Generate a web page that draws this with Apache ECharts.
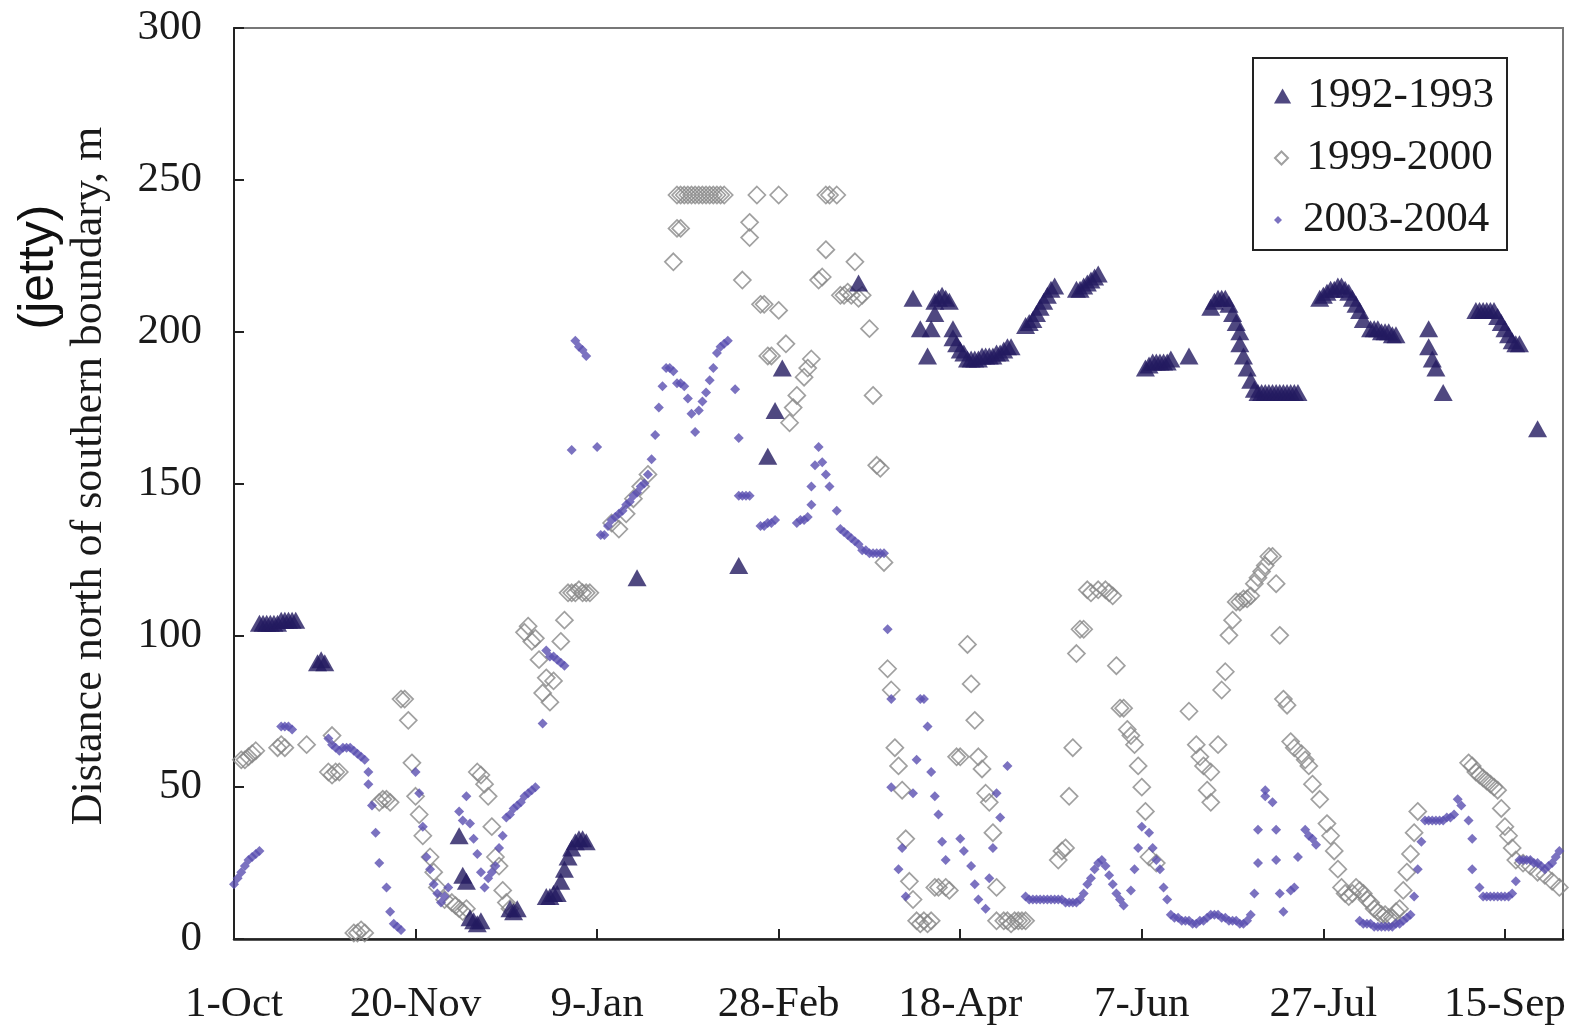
<!DOCTYPE html>
<html><head><meta charset="utf-8">
<script src="https://cdn.jsdelivr.net/npm/echarts@6/dist/echarts.min.js"></script>
<style>html,body{margin:0;padding:0;background:#fff}#c{width:1578px;height:1028px}</style>
</head><body><div id="c"></div>
<script>
const tickLabels = ['1-Oct','20-Nov','9-Jan','28-Feb','18-Apr','7-Jun','27-Jul','15-Sep'];
const seriesNames = ['1992-1993','1999-2000','2003-2004'];
const yTitle = 'Distance north of southern boundary, m';
const yNote = '(jetty)';

// [day since 1-Oct, distance m]
const s1992 = [
[7,104],[8,104],[9,104],[10,104],[11,104],[12,104],[13,105],[14,105],[15,105],[16,105],[17,105],
[23,91],[24,92],[25,91],
[62,34],[63,21],[64,19],[65,7],[66,6],[67,5],[68,6],
[76,10],[77,9],[78,10],
[86,14],[87,14],[88,15],[89,15],[90,19],[91,23],[92,27],[93,30],[94,32],[95,33],[96,33],[97,32],
[111,119],[139,123],[147,159],[149,174],[151,188],[172,216],
[187,211],[189,201],[191,192],[192,201],[193,206],[193,210],[194,211],[195,212],[196,211],[197,210],[198,201],[198,198],[199,196],[200,194],[201,193],[202,191],[203,191],[204,191],[205,191],[206,192],[207,192],[208,192],[209,192],[210,193],[211,193],[212,194],[213,195],[214,195],
[218,202],[219,203],[220,204],[221,206],[222,208],[223,210],[224,212],[225,214],[226,215],
[232,214],[233,214],[234,215],[235,216],[236,217],[237,218],[238,219],
[251,188],[252,189],[253,190],[254,190],[255,190],[256,190],[257,190],[258,191],[263,192],
[269,208],[270,210],[271,211],[272,211],[273,211],[274,209],[275,206],[276,203],[277,200],[277,196],[278,192],[279,188],[280,184],[281,181],[282,180],[283,180],[284,180],[285,180],[286,180],[287,180],[288,180],[289,180],[290,180],[291,180],[292,180],[293,180],
[299,211],[300,212],[301,213],[302,214],[303,214],[304,215],[305,215],[306,214],[307,213],[308,211],[309,209],[310,207],[311,204],[313,201],[314,201],[315,201],[316,200],[317,200],[318,200],[319,199],[320,199],
[329,201],[329,195],[330,191],[331,188],[333,180],
[342,207],[343,207],[344,207],[345,207],[346,207],[347,207],[348,205],[349,203],[350,201],[351,199],[352,197],[353,196],[354,196],
[359,168]
];

const s1999 = [
[2,59],[3,59],[4,60],[5,61],[6,62],[12,63],[13,64],[14,63],[20,64],[27,67],[26,55],[27,54],[28,55],[29,55],
[33,2],[34,2],[35,3],[36,2],[40,45],[41,46],[42,46],[43,45],
[46,79],[47,79],[48,72],[49,58],[50,47],[51,41],[52,34],[54,27],[55,22],[56,17],[58,13],[60,12],[61,11],[62,10],[63,9],[64,10],
[67,55],[68,54],[69,51],[70,47],[71,37],[72,27],[73,24],[74,16],[75,12],[76,10],
[80,101],[81,103],[82,98],[83,99],[84,92],[85,81],[86,86],[87,78],[88,85],[90,98],[91,105],[92,114],[93,114],[94,114],[95,115],[96,114],[97,114],[98,114],
[104,137],[106,135],[108,140],[110,145],[112,149],[114,153],
[121,223],[122,234],[123,234],[122,245],[123,245],[124,245],[125,245],[126,245],[127,245],[128,245],[129,245],[130,245],[131,245],[132,245],[133,245],[134,245],[135,245],
[140,217],[142,236],[142,231],[144,245],[145,209],[146,209],[147,192],[148,192],[150,207],[150,245],[152,196],[153,170],[154,175],[155,179],[157,185],[158,188],[159,191],
[161,217],[162,218],[163,227],[163,245],[164,245],[166,245],[167,212],[168,212],[169,213],[170,212],[171,223],[172,211],[173,212],[175,201],[176,179],[177,156],[178,155],[179,124],
[180,89],[181,82],[182,63],[183,57],[184,49],[185,33],[186,19],[187,13],[188,6],[189,5],[190,6],[191,5],[192,6],[193,17],[194,17],[196,17],[197,16],
[199,60],[200,60],[202,97],[203,84],[204,72],[205,60],[206,56],[207,48],[208,45],[209,35],[210,17],
[210,6],[212,6],[213,6],[214,5],[215,6],[216,6],[217,6],[218,6],
[227,26],[228,29],[229,30],[230,47],[231,63],[232,94],[233,102],[234,102],[235,115],[236,114],[238,115],[240,115],[241,114],[242,113],
[243,90],[244,76],[245,76],[246,69],[247,67],[248,64],[249,57],[250,50],[251,42],[252,27],[254,25],
[263,75],[265,64],[266,60],[267,57],[268,49],[269,45],[269,55],[271,64],[272,82],[273,88],[274,100],[275,105],[276,111],[277,111],[278,112],[279,112],[280,113],[281,117],[282,119],[283,121],[284,123],[285,126],[286,126],[287,117],[288,100],
[289,79],[290,77],[291,65],[292,63],[294,61],[295,59],[296,57],[297,51],[299,46],[301,38],[302,34],[303,29],[304,23],[305,17],[306,15],[307,14],[308,15],[309,17],[310,16],[311,15],[312,13],[313,12],[314,10],[315,9],[316,8],[317,8],[318,7],[319,7],[320,9],[321,10],
[322,16],[323,22],[324,28],[325,35],[326,42],
[340,58],[341,57],[342,55],[343,54],[344,53],[345,52],[346,51],[347,50],[348,49],[349,43],[350,37],[351,34],[352,30],[353,26],[355,25],[357,24],[359,22],[361,21],[363,19],[365,17]
];

const s2003 = [
[0,18],[1,20],[2,22],[3,24],[4,26],[5,27],[6,28],[7,29],
[13,70],[14,70],[15,70],[16,69],
[26,66],[27,64],[28,63],[29,62],[30,63],[31,63],[32,63],[33,62],[34,61],[35,60],[36,59],[37,55],[37,51],[38,44],[39,35],[40,25],[42,17],[43,9],[44,5],[45,4],[46,3],
[50,55],[51,48],[52,37],[53,27],[54,23],[55,18],[56,15],[57,12],[58,14],[59,17],
[62,42],[63,39],[64,47],[65,38],[66,33],[67,28],[68,22],[69,17],[70,20],[71,22],[72,24],[73,30],[74,34],[75,40],[76,41],[77,43],[78,44],[79,45],[80,47],[81,48],[82,49],[83,50],
[85,71],[86,95],[87,93],[88,93],[89,92],[90,91],[91,90],
[93,161],[94,197],[95,195],[96,194],[97,192],[100,162],
[101,133],[102,133],[103,136],[104,138],[105,139],[106,140],[107,141],[108,143],[109,144],[110,146],[111,147],[112,149],[113,150],[114,153],[115,158],[116,166],[117,175],[118,182],[119,188],[120,188],[121,187],[122,183],[123,183],[124,182],[125,178],[126,173],[127,167],[128,174],[129,177],[130,180],[131,184],[132,188],[133,193],[134,195],[135,196],[136,197],
[138,181],[139,165],[139,146],[140,146],[141,146],[142,146],[145,136],[146,136],[147,137],[148,137],[149,138],[155,137],[156,138],[157,138],[158,139],[159,143],[159,149],[160,156],[161,162],[162,157],[163,153],[164,149],[166,141],[167,135],[168,134],[169,133],[170,132],[171,131],[172,130],[173,128],[174,128],[175,127],[176,127],[177,127],[178,127],[179,127],
[180,102],[181,79],[181,50],[183,23],[184,30],[185,14],[187,48],[188,59],[189,79],[190,79],[191,70],[192,55],[193,47],[194,41],[195,32],[196,26],[200,33],[201,29],[203,24],[204,18],[205,13],[207,10],[208,20],[209,30],[210,48],[211,40],[213,57],
[218,14],[219,13],[220,13],[221,13],[222,13],[223,13],[224,13],[225,13],[226,13],[227,13],[228,13],[229,12],[230,12],[231,12],[232,12],[233,13],[234,15],[235,18],[236,20],[237,23],[238,25],[239,26],[240,24],[241,21],[242,18],[243,15],[244,13],[245,11],
[247,16],[248,23],[249,30],[250,37],[252,35],[253,30],[254,26],[255,23],[256,17],[257,13],[258,8],[259,7],[260,7],[261,6],[262,6],[263,6],[264,5],[265,5],[266,6],[267,6],[268,7],[269,8],[270,8],[271,8],[272,7],[273,7],[274,6],[275,6],[276,6],[277,5],[278,5],[279,6],[280,8],
[281,15],[282,25],[282,36],[284,49],[284,47],[286,45],[287,36],[287,26],[288,15],[289,9],[291,16],[292,17],[293,27],[295,36],[296,34],[297,33],[298,31],
[310,6],[311,5],[312,5],[313,5],[314,4],[315,4],[316,4],[317,4],[318,4],[319,4],[320,5],[321,5],[322,6],[323,7],[324,8],[325,14],[326,23],[327,32],[328,39],[329,39],[330,39],[331,39],[332,39],[333,39],[334,40],[335,40],[336,41],[337,46],[338,44],
[340,39],[341,33],[341,23],[343,17],[344,14],[345,14],[346,14],[347,14],[348,14],[349,14],[350,14],[351,14],[352,15],[353,19],[354,26],[355,26],[356,26],[357,26],[358,25],[359,25],[360,24],[361,23],[362,24],[363,25],[364,27],[365,29]
];

const serif = '"Liberation Serif","Times New Roman",serif';
const FS = 43;
const chart = echarts.init(document.getElementById('c'));
function legendFor(name, top, h, icon) {
  return {
    data: [{name: name, icon: icon}], left: 1274, top: top, orient: 'horizontal',
    itemWidth: 40, itemHeight: h, padding: 0, selectedMode: false, symbolKeepAspect: true,
    textStyle: {fontFamily: serif, fontSize: FS, color: '#1a1a1a', lineHeight: 44}
  };
}
chart.setOption({
  animation: false,
  backgroundColor: '#fff',
  grid: {left: 234, right: 15, top: 28, bottom: 89, show: true, borderColor: '#777', borderWidth: 2, backgroundColor: 'transparent'},
  legend: [
    legendFor(seriesNames[0], 74, 15, 'path://M8,0L16,14L0,14Z'),
    legendFor(seriesNames[1], 136, 13, 'path://M6,0L12,6L6,12L0,6Z'),
    legendFor(seriesNames[2], 198, 8, 'path://M4,0L8,4L4,8L0,4Z')
  ],
  graphic: [
    {type: 'rect', shape: {x: 1253, y: 58, width: 254, height: 192}, style: {fill: 'none', stroke: '#222', lineWidth: 2}, z: 10},
    {type: 'text', x: 89, y: 476, rotation: Math.PI / 2,
     style: {text: yTitle, font: '44px ' + serif, fill: '#1a1a1a', textAlign: 'center', textVerticalAlign: 'middle'}},
    {type: 'text', x: 39, y: 267, rotation: Math.PI / 2,
     style: {text: yNote, font: '50px "Liberation Sans", Arial, sans-serif', fill: '#111', textAlign: 'center', textVerticalAlign: 'middle'}}
  ],
  xAxis: {
    type: 'value', min: 0, max: 366, interval: 50,
    splitLine: {show: false},
    axisLine: {lineStyle: {color: '#222', width: 2.5}},
    axisTick: {inside: true, length: 10, lineStyle: {color: '#222', width: 2}},
    axisLabel: {fontFamily: serif, fontSize: FS, color: '#1a1a1a', margin: 44,
      formatter: v => (v % 50 === 0 ? tickLabels[v / 50] : '')}
  },
  yAxis: {
    type: 'value', min: 0, max: 300, interval: 50,
    splitLine: {show: false},
    axisLine: {show: true, lineStyle: {color: '#222', width: 2}},
    axisTick: {show: true, inside: true, length: 10, lineStyle: {color: '#222', width: 2}},
    axisLabel: {fontFamily: serif, fontSize: FS, color: '#1a1a1a', margin: 32}
  },
  series: [
    {name: seriesNames[1], type: 'scatter', data: s1999, symbol: 'diamond', symbolSize: 17, z: 2,
     itemStyle: {color: 'rgba(255,255,255,0)', borderColor: '#888888', borderWidth: 1.7}},
    {name: seriesNames[2], type: 'scatter', data: s2003, symbol: 'diamond', symbolSize: 10, z: 3,
     itemStyle: {color: '#5a4fb0'}},
    {name: seriesNames[0], type: 'scatter', data: s1992, symbol: 'triangle', symbolSize: [19, 17], z: 4,
     itemStyle: {color: '#231a60'}}
  ]
});
</script></body></html>
